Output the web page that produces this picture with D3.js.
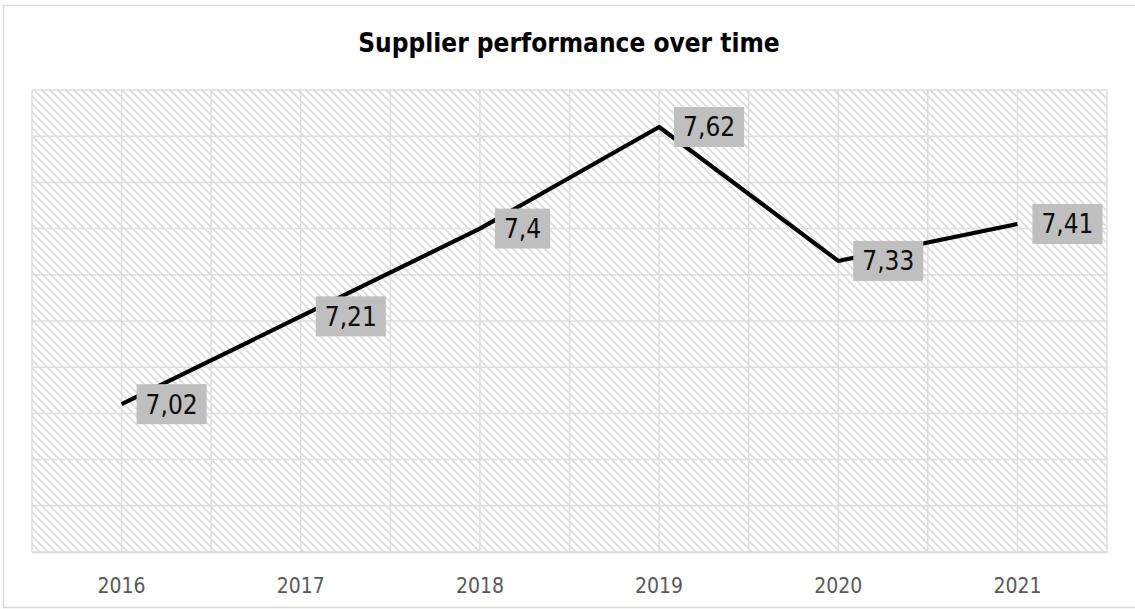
<!DOCTYPE html>
<html>
<head>
<meta charset="utf-8">
<script src="https://cdn.jsdelivr.net/npm/d3@7"></script>
<style>
  html, body { margin: 0; padding: 0; background: #fff; }
  svg { display: block; }
  text { font-family: "DejaVu Sans Condensed", "DejaVu Sans", sans-serif; font-stretch: condensed; }
</style>
</head>
<body>
<svg id="chart" width="1135" height="609"></svg>
<script>
// Yearly supplier performance scores
const years = ["2016", "2017", "2018", "2019", "2020", "2021"];
const scores = [7.02, 7.21, 7.4, 7.62, 7.33, 7.41];
const scoreLabels = ["7,02", "7,21", "7,4", "7,62", "7,33", "7,41"];
const yTicks = [6.7, 6.8, 6.9, 7.0, 7.1, 7.2, 7.3, 7.4, 7.5, 7.6, 7.7];

const W = 1135, H = 609;
const plot = { left: 32, right: 1107, top: 90, bottom: 552 };

const svg = d3.select("#chart");

// Diagonal hatch fill for the plot area
const defs = svg.append("defs");
const pat = defs.append("pattern")
  .attr("id", "hatch")
  .attr("patternUnits", "userSpaceOnUse")
  .attr("width", 8).attr("height", 8);
pat.append("rect").attr("width", 8).attr("height", 8).attr("fill", "#fff");
pat.append("path")
  .attr("d", "M-2,-2 L10,10 M-2,6 L2,10 M6,-2 L10,2")
  .attr("stroke", "#dcdcdc")
  .attr("stroke-width", 1.8);

// Chart frame
svg.append("rect")
  .attr("x", 3.5).attr("y", 5.5)
  .attr("width", W).attr("height", H - 7)
  .attr("fill", "#fff")
  .attr("stroke", "#d9d9d9")
  .attr("stroke-width", 1.5);

const x = d3.scaleBand().domain(years).range([plot.left, plot.right]);
const xc = d => x(d) + x.bandwidth() / 2;
const y = d3.scaleLinear().domain([6.7, 7.7]).range([plot.bottom, plot.top]);

svg.append("rect")
  .attr("x", plot.left).attr("y", plot.top)
  .attr("width", plot.right - plot.left).attr("height", plot.bottom - plot.top)
  .attr("fill", "url(#hatch)");

// Horizontal gridlines
svg.append("g")
  .selectAll("line")
  .data(yTicks)
  .join("line")
  .attr("x1", plot.left).attr("x2", plot.right)
  .attr("y1", d => y(d)).attr("y2", d => y(d))
  .attr("stroke", "#dedede")
  .attr("stroke-width", 1.5);

// Vertical gridlines at band edges and band centres
const vLines = [];
years.forEach(d => { vLines.push(x(d)); vLines.push(xc(d)); });
vLines.push(plot.right);
svg.append("g")
  .selectAll("line")
  .data(vLines)
  .join("line")
  .attr("x1", d => d).attr("x2", d => d)
  .attr("y1", plot.top).attr("y2", plot.bottom)
  .attr("stroke", "#dedede")
  .attr("stroke-width", 1.5);

// Category axis
const xAxis = svg.append("g")
  .attr("transform", `translate(0,${plot.bottom})`)
  .call(d3.axisBottom(x).tickSize(0).tickPadding(26));
xAxis.select(".domain").attr("stroke", "#d9d9d9").attr("stroke-width", 1.5);
xAxis.selectAll("text")
  .attr("font-family", null)
  .attr("font-size", 21)
  .attr("fill", "#595959");

// Title
svg.append("text")
  .attr("x", 569).attr("y", 52)
  .attr("text-anchor", "middle")
  .attr("font-size", 26)
  .attr("font-weight", "bold")
  .attr("fill", "#000")
  .text("Supplier performance over time");

// Score line
const line = d3.line()
  .x((d, i) => xc(years[i]))
  .y(d => y(d));
svg.append("path")
  .datum(scores)
  .attr("d", line)
  .attr("fill", "none")
  .attr("stroke", "#000")
  .attr("stroke-width", 4.2)
  .attr("stroke-linejoin", "round");

// Value labels on grey boxes, to the right of each point
const lbl = svg.append("g")
  .selectAll("g")
  .data(scores)
  .join("g")
  .attr("transform", (d, i) => `translate(${xc(years[i]) + 15},${y(d)})`);
lbl.append("rect").attr("fill", "#bfbfbf");
lbl.append("text")
  .attr("font-size", 26)
  .attr("fill", "#0d0d0d")
  .attr("dy", "0.36em")
  .text((d, i) => scoreLabels[i]);
lbl.each(function () {
  const g = d3.select(this);
  const tw = g.select("text").node().getComputedTextLength();
  g.select("text").attr("x", 9);
  g.select("rect").attr("x", 0).attr("y", -20).attr("width", tw + 18).attr("height", 40);
});
</script>
</body>
</html>
